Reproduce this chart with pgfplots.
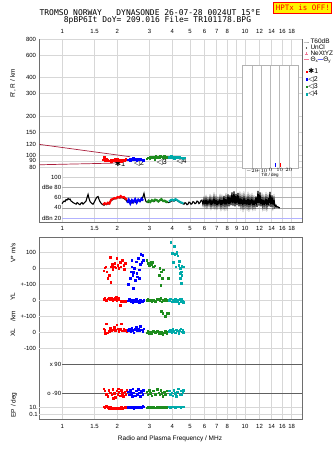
\documentclass[border=0pt]{standalone}
\usepackage{fontspec}
\setmainfont{Liberation Sans}
\newfontfamily\monofont{DejaVu Sans Mono}
\newfontfamily\symfont{DejaVu Sans}
\usepackage{pgfplots}
\pgfplotsset{compat=1.18}
\definecolor{crim}{RGB}{170,30,60}
\definecolor{mygreen}{RGB}{30,140,30}
\definecolor{mycyan}{RGB}{0,170,170}
\definecolor{gridc}{RGB}{215,215,215}
\definecolor{framec}{RGB}{110,110,110}
\definecolor{pinkc}{RGB}{240,120,150}
\newcommand{\fs}[1]{\fontsize{#1}{#1}\selectfont}
\tikzset{mypts/.style={only marks, mark=square*, mark size=0.75pt, color=#1, mark options={draw=none, fill=#1}}}
\begin{document}
\begin{tikzpicture}
\useasboundingbox (0,0) rectangle (335bp,-451bp);

% ---------- upper frame + dB panel ----------
\begin{axis}[scale only axis, anchor=north west, xmode=log, xmin=0.75, xmax=20.5,
  tick style={draw=none}, ticklabel style={font=\fs{6}}, major grid style={gridc, line width=0.5pt},
  at={(39.5bp,-39bp)}, width=262.5bp, height=183bp, ymin=12.2, ymax=369.3,
  ytick={20,40,60,80,100}, yticklabels={dBn 20,40,60,dBe 80,100}, yticklabel style={xshift=22.8bp, inner sep=1pt},
  xtick={1,1.5,2,3,4,5,6,7,8,9,10,12,14,16,18}, xticklabels={1,1.5,2,3,4,5,6,7,8,,10,12,14,16,18},
  xticklabel pos=upper, xmajorgrids, axis line style={framec, line width=0.6pt}, xticklabel style={yshift=1.5bp},
  legend image code/.code={\draw[mark repeat=2,mark phase=2,#1] plot coordinates {(0cm,0cm) (0.1cm,0cm) (0.2cm,0cm)};},
  legend style={at={(1.004,1.006)}, anchor=north west, draw=none, fill=none, font=\fs{6.5}, inner sep=0pt, row sep=-1.8pt, nodes={inner sep=0.8pt}}, legend cell align=left]
\draw[gray!35, line width=0.5pt] (axis cs:1,100) -- (axis cs:20.5,100);
\draw[gray!60, line width=0.5pt] (axis cs:1,80) -- (axis cs:20.5,80);
\draw[gray!60, line width=0.5pt] (axis cs:1,60) -- (axis cs:20.5,60);
\draw[gray!75, line width=0.5pt] (axis cs:1,40) -- (axis cs:20.5,40);
\draw[blue!30, line width=0.9pt] (axis cs:1,20) -- (axis cs:20.5,20);
\addlegendimage{gray!70, line width=0.8pt}\addlegendentry{T60dB}
\addlegendimage{only marks, mark=*, mark size=0.35pt, black}\addlegendentry{UnCl}
\addlegendimage{only marks, mark=+, mark size=1.6pt, pinkc}\addlegendentry{NeXtYZ}
\addlegendimage{pinkc, line width=0.6pt}\addlegendentry{Θ\textsubscript{x}{\color{blue!60}\rule[0.5ex]{5bp}{0.5pt}}Θ\textsubscript{y}}
\addplot[black, line width=1.1pt, forget plot] coordinates {(0.996,48)(1.009,51)(1.022,53)(1.035,52)(1.048,56)(1.061,55)(1.075,58)(1.089,56)(1.102,57)(1.116,53)(1.130,52)(1.145,50)(1.159,49)(1.174,48)(1.189,47)(1.204,50)(1.219,49)(1.234,47)(1.250,46)(1.266,49)(1.282,50)(1.298,47)(1.315,49)(1.331,51)(1.348,53)(1.365,60)(1.383,66)(1.400,58)(1.418,52)(1.436,50)(1.454,48)(1.472,47)(1.491,50)(1.510,54)(1.529,58)(1.548,61)(1.568,62)(1.588,56)(1.608,52)(1.628,49)(1.649,47)(1.691,45)(1.734,48)(1.779,47)(1.824,52)(1.871,55)(1.918,57)(1.967,58)(2.017,60)(2.069,59)(2.122,60)(2.176,58)(2.231,55)(2.288,50)(2.347,54)(2.406,49)(2.468,53)(2.531,50)(2.595,55)(2.662,52)(2.730,57)(2.765,62)(2.799,68)(2.835,58)(2.871,52)(2.944,50)(3.019,52)(3.096,54)(3.175,52)(3.256,55)(3.339,53)(3.424,54)(3.512,55)(3.601,52)(3.693,53)(3.787,50)(3.884,51)(3.983,54)(4.085,53)(4.189,55)(4.296,53)(4.405,50)(4.518,49)(4.633,47)(4.692,50)(4.751,49)(4.812,46)(4.873,47)(4.935,51)(4.997,50)(5.060,47)(5.124,48)(5.189,52)(5.255,51)(5.322,48)(5.389,49)(5.458,53)(5.527,52)(5.597,48)(5.668,50)(5.740,54)(5.812,55)(5.886,46)(5.961,57)(6.037,45)(6.113,58)(6.191,44)(6.269,56)(6.349,46)(6.429,59)(6.511,43)(6.593,57)(6.677,45)(6.761,61)(6.847,44)(6.934,58)(7.022,43)(7.111,56)(7.201,45)(7.292,59)(7.385,42)(7.478,58)(7.573,44)(7.669,63)(7.766,43)(7.865,60)(7.965,44)(8.066,66)(8.168,43)(8.271,64)(8.376,45)(8.482,70)(8.590,44)(8.699,72)(8.809,43)(8.921,67)(9.034,45)(9.148,69)(9.264,43)(9.382,62)(9.501,44)(9.621,60)(9.743,42)(9.867,62)(9.992,44)(10.12,58)(10.25,43)(10.38,61)(10.51,42)(10.64,59)(10.77,44)(10.91,60)(11.05,42)(11.19,57)(11.33,43)(11.47,62)(11.62,42)(11.77,73)(11.92,44)(12.07,70)(12.22,43)(12.38,60)(12.53,42)(12.69,58)(12.85,43)(13.02,61)(13.18,42)(13.35,59)(13.52,43)(13.69,71)(13.86,42)(14.04,64)(14.22,43)(14.40,58)(14.58,41)(14.76,45)(14.95,41)(15.14,42)(15.33,40)(15.53,40)};
\addplot[red, line width=2pt, forget plot] coordinates {(1.671,46)(1.705,49)(1.740,47)(1.776,50)(1.812,48)(1.849,56)(1.887,57)(1.925,59)(1.964,58)(2.004,61)(2.045,60)(2.087,63)(2.129,60)(2.173,61)(2.217,58)(2.262,56)};
\addplot[blue, line width=2pt, forget plot] coordinates {(2.262,50)(2.308,56)(2.355,48)(2.403,55)(2.452,51)(2.502,57)(2.553,50)(2.605,56)(2.658,53)(2.712,58)(2.767,54)};
\addplot[mygreen, line width=2pt, forget plot] coordinates {(2.910,50)(2.969,54)(3.030,51)(3.091,55)(3.154,53)(3.218,56)(3.284,55)(3.351,52)(3.419,55)(3.488,57)(3.559,53)(3.632,54)(3.706,51)(3.781,52)};
\addplot[mycyan, line width=2pt, forget plot] coordinates {(3.837,52)(3.915,55)(3.995,56)(4.076,54)(4.159,57)(4.244,55)(4.330,53)(4.418,51)(4.508,50)(4.600,48)};
\end{axis}

% ---------- R' panel ----------
\begin{axis}[scale only axis, anchor=north west, xmode=log, xmin=0.75, xmax=20.5,
  tick style={draw=none}, ticklabel style={font=\fs{6}}, major grid style={gridc, line width=0.5pt},
  at={(39.5bp,-39bp)}, width=262.5bp, height=133bp, ymode=log, ymin=73.8, ymax=800,
  ytick={80,90,100,120,150,200,300,400,600,800}, yticklabels={80,90,100,120,150,200,300,400,600,800},
  ymajorgrids, xtick=\empty, axis line style={draw=none}, clip=false,
  legend image code/.code={\draw[mark repeat=2,mark phase=2,#1] plot coordinates {(0cm,0cm) (0.1cm,0cm) (0.2cm,0cm)};},
  legend style={at={(1.015,0.785)}, anchor=north west, draw=none, fill=none, font=\fs{7}, inner sep=0pt, row sep=-0.5pt, nodes={inner sep=0.8pt}}, legend cell align=left]
\addplot[crim, line width=0.7pt, forget plot] coordinates {(0.75,121) (2.35,97)};
\addplot[crim, line width=0.7pt, forget plot] coordinates {(0.75,84) (1.9,86.5) (2.35,92)};
\addplot[mypts=red] coordinates {(1.671,92)(1.703,91)(1.735,90)(1.768,91)(1.802,90)(1.837,91)(1.872,92)(1.907,91)(1.944,90)(1.981,91)(2.019,90)(2.057,91)(2.096,92)(2.136,91)(2.177,92)(2.219,93)(2.261,92)(1.69,96)(1.95,94)(1.75,93)(1.85,89)(2.0,93)(2.1,89.5)(2.2,90.5)};
\addlegendentry{{\symfont ✱}1}
\addplot[mypts=blue] coordinates {(2.289,92)(2.333,93)(2.377,94)(2.422,93)(2.469,92)(2.516,93)(2.564,94)(2.613,93)(2.663,92)(2.714,92)(2.765,91)(2.45,95)(2.35,91)(2.55,91.5)(2.68,94)};
\addlegendentry{{\symfont ◁}2}
\addplot[mypts=mygreen] coordinates {(2.890,94)(2.945,95)(3.001,97)(3.059,96)(3.117,95)(3.177,97)(3.237,98)(3.299,96)(3.362,97)(3.426,98)(3.492,97)(3.558,96)(3.626,95)(3.696,96)(3.766,97)(3.2,93)(3.0,94.5)(3.4,95)(3.6,98)};
\addlegendentry{{\symfont ◁}3}
\addplot[mypts=mycyan] coordinates {(3.837,96)(3.910,97)(3.985,96)(4.061,97)(4.139,96)(4.218,97)(4.298,95)(4.380,96)(4.464,95)(4.549,94)(4.636,95)(3.95,98.5)(4.1,94.5)(4.35,97.5)};
\addlegendentry{{\symfont ◁}4}
\node[font=\fs{7.5}] at (axis cs:2.07,86.2) {{\symfont ✱}1};
\node[font=\fs{7.5}] at (axis cs:2.63,86.5) {{\symfont ◁}2};
\node[font=\fs{7.5}] at (axis cs:3.5,88) {{\symfont ◁}3};
\node[font=\fs{7.5}] at (axis cs:4.5,88.5) {{\symfont ◁}4};
\end{axis}

% ---------- tilt inset ----------
\begin{axis}[scale only axis, anchor=north west, at={(242bp,-65bp)}, width=56bp, height=103bp,
  xmin=-31, xmax=30, ymin=0, ymax=1, axis background/.style={fill=white},
  axis line style={gray!60}, xtick={-20,-10,0,10,20}, xmajorgrids, major grid style={gray!55},
  ytick=\empty, tick style={draw=none}, ticklabel style={font=\fs{4.5}, inner sep=0.5pt},
  xlabel={Tilt / deg}, xlabel style={font=\fs{4.5}, inner sep=0pt}]
\addplot[blue, line width=0.8pt] coordinates {(5.5,0.01) (5.5,0.05)};
\addplot[red, line width=0.8pt] coordinates {(11,0.01) (11,0.05)};
\end{axis}

% ---------- lower frame + V* ----------
\begin{axis}[scale only axis, anchor=north west, xmode=log, xmin=0.75, xmax=20.5,
  tick style={draw=none}, ticklabel style={font=\fs{6}}, major grid style={gridc, line width=0.5pt},
  at={(39.5bp,-237bp)}, width=262.5bp, height=182bp, ymin=-943.75, ymax=193.75,
  ytick={-100,0,100}, yticklabels={+-100,0,100}, ymajorgrids,
  xtick={1,1.5,2,3,4,5,6,7,8,9,10,12,14,16,18}, xticklabels={1,1.5,2,3,4,5,6,7,8,9,10,12,14,16,18},
  xticklabel pos=upper, xmajorgrids, axis line style={framec, line width=0.6pt}, xticklabel style={yshift=3bp}]
\addplot[mypts=red] coordinates {(1.68,-17)(1.71,2)(1.73,8)(1.75,-23)(1.77,-65)(1.83,67)(1.81,-44)(1.84,-90)(1.87,23)(1.90,8)(1.94,29)(1.96,2)(1.99,60)(2.01,19)(2.04,-2)(2.07,35)(2.09,8)(2.13,50)(2.16,19)(2.18,-8)(2.21,29)(1.94,8)(1.89,-6)(1.85,8)};
\addplot[mypts=blue] coordinates {(2.30,-102)(2.35,-65)(2.37,-23)(2.40,8)(2.43,-44)(2.45,-127)(2.48,-2)(2.50,-75)(2.53,40)(2.55,-33)(2.57,-54)(2.60,60)(2.63,-12)(2.66,23)(2.69,85)(2.72,35)(2.75,81)(2.77,50)(2.64,-65)(2.45,-27)(2.40,50)};
\addplot[mypts=mygreen] coordinates {(2.90,50)(2.94,29)(2.99,19)(3.05,40)(3.09,23)(3.15,8)(3.20,14)(3.42,-2)(3.48,-23)(3.40,-44)(3.51,-65)(3.46,-106)(3.57,-12)(3.80,-65)(3.03,30)(3.12,35)};
\addplot[mypts=mycyan] coordinates {(3.93,160)(4.09,137)(4.00,92)(4.13,85)(4.23,102)(4.29,77)(4.05,35)(4.17,8)(4.32,19)(4.41,-2)(4.50,14)(4.59,8)(4.46,-23)(4.41,-33)(4.50,-44)(4.42,-65)(4.46,-96)(4.36,44)(4.20,90)};
\end{axis}

% YL
\begin{axis}[scale only axis, anchor=north west, xmode=log, xmin=0.75, xmax=20.5,
  tick style={draw=none}, ticklabel style={font=\fs{6}}, major grid style={gridc, line width=0.5pt},
  at={(39.5bp,-237bp)}, width=262.5bp, height=182bp, axis line style={draw=none}, xtick=\empty, ymajorgrids,
  ymin=-743.75, ymax=393.75, ytick={-100,0}, yticklabels={+-100,0}]
\addplot[mypts=red] coordinates {(1.68,5)(1.71,12)(1.74,0)(1.77,8)(1.80,15)(1.83,3)(1.86,10)(1.89,-4)(1.92,6)(1.95,12)(1.98,-3)(2.01,8)(2.04,2)(2.07,-31)(2.10,-6)(2.13,-10)(2.16,-3)(2.19,-8)(2.22,-12)(2.25,-5)(1.97,18)(2.02,15)};
\addplot[mypts=blue] coordinates {(2.29,-5)(2.32,4)(2.36,-12)(2.39,-2)(2.43,-18)(2.46,0)(2.50,-8)(2.53,5)(2.57,-10)(2.60,-3)(2.64,-15)(2.67,2)(2.71,-6)(2.75,-12)(2.78,0)};
\addplot[mypts=mygreen] coordinates {(2.90,-2)(2.94,5)(2.98,-4)(3.02,2)(3.08,-8)(3.14,-2)(3.22,-6)(3.30,4)(3.36,8)(3.42,-4)(3.46,10)(3.50,-10)(3.55,2)(3.60,-5)(3.66,6)(3.72,0)(3.48,-69)(3.54,-83)(3.66,-100)(3.72,-83)(3.80,-83)};
\addplot[mypts=mycyan] coordinates {(3.84,-2)(3.90,8)(3.96,-10)(4.02,3)(4.08,-6)(4.14,5)(4.20,-12)(4.26,0)(4.32,-20)(4.38,4)(4.44,-8)(4.50,6)(4.56,-4)(4.60,-14)};
\end{axis}

% XL
\begin{axis}[scale only axis, anchor=north west, xmode=log, xmin=0.75, xmax=20.5,
  tick style={draw=none}, ticklabel style={font=\fs{6}}, major grid style={gridc, line width=0.5pt},
  at={(39.5bp,-237bp)}, width=262.5bp, height=182bp, axis line style={draw=none}, xtick=\empty, ymajorgrids,
  ymin=-543.75, ymax=593.75, ytick={-100,0}, yticklabels={-100,0}]
\addplot[mypts=red] coordinates {(1.68,20)(1.71,10)(1.74,52)(1.77,-4)(1.80,5)(1.83,25)(1.86,8)(1.89,15)(1.92,30)(1.95,12)(1.98,45)(2.01,20)(2.04,5)(2.07,18)(2.10,52)(2.13,8)(2.16,22)(2.19,10)(2.22,15)(2.25,5)(1.72,-6)};
\addplot[mypts=blue] coordinates {(2.29,10)(2.32,20)(2.36,5)(2.39,25)(2.43,12)(2.46,-4)(2.50,18)(2.53,30)(2.57,8)(2.60,22)(2.64,12)(2.67,35)(2.71,15)(2.75,5)(2.78,20)};
\addplot[mypts=mygreen] coordinates {(2.90,-5)(2.94,5)(2.98,-10)(3.02,0)(3.08,-6)(3.14,4)(3.22,-2)(3.30,6)(3.36,-8)(3.42,2)(3.46,-12)(3.50,0)(3.55,-18)(3.60,-4)(3.66,8)(3.72,-6)(3.78,2)};
\addplot[mypts=mycyan] coordinates {(3.84,5)(3.90,12)(3.96,0)(4.02,18)(4.08,6)(4.14,-4)(4.20,15)(4.26,8)(4.32,-6)(4.38,10)(4.44,20)(4.50,2)(4.56,12)(4.60,-2)};
\end{axis}

% PP
\begin{axis}[scale only axis, anchor=north west, xmode=log, xmin=1, xmax=20.5,
  tick style={draw=none}, ticklabel style={font=\fs{6}},
  at={(62.3bp,-237bp)}, width=239.7bp, height=182bp, ymin=-252.7, ymax=897,
  axis line style={draw=none}, xtick=\empty, ytick={90,-90}, yticklabels={x 90,o -90}, yticklabel style={inner sep=1pt},
  ymajorgrids, major grid style={gray!75!black, line width=0.6pt}]
\addplot[mypts=red] coordinates {(1.68,-60)(1.71,-75)(1.74,-95)(1.77,-110)(1.80,-70)(1.83,-85)(1.86,-100)(1.89,-65)(1.92,-90)(1.95,-115)(1.98,-75)(2.01,-95)(2.04,-80)(2.07,-105)(2.10,-70)(2.13,-90)(2.16,-110)(2.19,-80)(2.22,-95)(2.25,-70)(1.90,-120)(2.02,-60)};
\addplot[mypts=blue] coordinates {(2.29,-80)(2.32,-100)(2.36,-70)(2.39,-90)(2.43,-60)(2.46,-85)(2.50,-105)(2.53,-75)(2.57,-95)(2.60,-65)(2.64,-88)(2.67,-110)(2.71,-78)(2.75,-95)(2.78,-70)(2.41,-108)};
\addplot[mypts=mygreen] coordinates {(2.90,-80)(2.94,-100)(2.98,-70)(3.02,-90)(3.08,-105)(3.14,-75)(3.22,-95)(3.30,-65)(3.36,-85)(3.42,-100)(3.46,-70)(3.50,-90)(3.55,-110)(3.60,-80)(3.66,-95)(3.72,-75)};
\addplot[mypts=mycyan] coordinates {(3.84,-75)(3.90,-95)(3.96,-85)(4.02,-105)(4.08,-70)(4.14,-90)(4.20,-110)(4.26,-80)(4.32,-60)(4.38,-95)(4.44,-75)(4.50,-100)(4.56,-85)(4.60,-70)};
\node[font=\fs{6}, anchor=east] at (axis cs:1,0) [xshift=-11bp] {PP};
\end{axis}

% EP (+ bottom tick labels)
\begin{axis}[scale only axis, anchor=north west, xmode=log, xmin=0.75, xmax=20.5,
  tick style={draw=none}, ticklabel style={font=\fs{6}}, major grid style={gridc, line width=0.5pt},
  at={(39.5bp,-400bp)}, width=262.5bp, height=19bp, ymode=log, ymin=0.0037, ymax=1000,
  axis line style={draw=none}, ytick={0.1,10}, yticklabels={0.1,10.}, ymajorgrids, yticklabel style={inner sep=1.5pt},
  xtick={1,1.5,2,3,4,5,6,7,8,10,12,14,16,18}, xticklabels={1,1.5,2,3,4,5,6,7,8,10,12,14,16,18}, xticklabel style={yshift=-1.5bp}]
\addplot[mypts=red] coordinates {(1.68,12)(1.71,8)(1.74,15)(1.77,10)(1.80,5)(1.83,8)(1.86,4)(1.89,6)(1.92,3)(1.95,5)(1.98,4)(2.01,7)(2.04,3)(2.07,5)(2.10,8)(2.13,4)(2.16,6)(2.19,9)(2.22,7)(2.25,10)};
\addplot[mypts=blue] coordinates {(2.29,10)(2.32,7)(2.36,12)(2.39,6)(2.43,9)(2.46,5)(2.50,8)(2.53,11)(2.57,6)(2.60,9)(2.64,14)(2.67,8)(2.71,10)(2.75,16)(2.78,12)};
\addplot[mypts=mygreen] coordinates {(2.90,6)(2.94,9)(2.98,7)(3.02,11)(3.08,8)(3.14,10)(3.22,7)(3.30,9)(3.36,12)(3.42,8)(3.46,10)(3.50,9)(3.55,11)(3.60,8)(3.66,10)(3.72,9)};
\addplot[mypts=mycyan] coordinates {(3.84,12)(3.90,10)(3.96,14)(4.02,11)(4.08,13)(4.14,10)(4.20,12)(4.26,14)(4.32,11)(4.38,13)(4.44,10)(4.50,12)(4.56,14)(4.60,11)};
\end{axis}

% ---------- texts ----------
\node[font=\monofont\fs{8}] at (150bp,-12.5bp) {TROMSO NORWAY\ \ \ DYNASONDE 26-07-28 0024UT 15°E};
\node[font=\monofont\fs{8}] at (157.5bp,-19.8bp) {8pBP6It DoY= 209.016 File= TR101178.BPG};
\node[draw=red, fill=yellow, text=red, line width=0.8pt, font=\monofont\fs{7.5}, inner xsep=2pt, inner ysep=1pt, minimum height=11bp] at (302.8bp,-7.4bp) {HPTx is OFF!};
\node[font=\fs{6.5}, rotate=90] at (13bp,-83.5bp) {R', R / km};
\node[font=\fs{6.5}, rotate=90] at (13bp,-253bp) {V* m/s};
\node[font=\fs{6.5}, rotate=90] at (13bp,-297bp) {YL};
\node[font=\fs{6.5}, rotate=90] at (13bp,-316bp) {/km};
\node[font=\fs{6.5}, rotate=90] at (13bp,-333bp) {XL};
\node[font=\fs{6.5}, rotate=90] at (14bp,-405bp) {EP / deg};
\node[font=\fs{6.5}] at (170bp,-439bp) {Radio and Plasma Frequency / MHz};
\end{tikzpicture}
\end{document}
